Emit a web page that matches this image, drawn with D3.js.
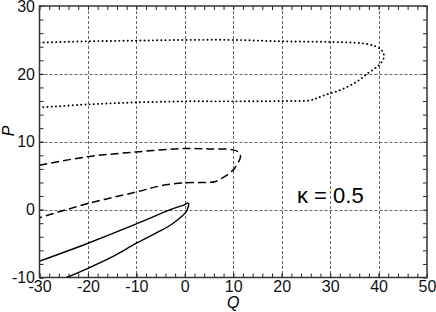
<!DOCTYPE html>
<html>
<head>
<meta charset="utf-8">
<script src="https://cdn.jsdelivr.net/npm/d3@7.9.0/dist/d3.min.js"></script>
<style>
  body { margin: 0; background: #fff; }
  svg { display: block; font-family: 'Liberation Sans', Arial, sans-serif; }
  .axis path { display: none; }
  .axis line { stroke: #222; }
  .axis text { font-size: 16px; fill: #111; font-family: 'Liberation Sans', Arial, sans-serif; }
</style>
</head>
<body>
<svg id="chart" width="436" height="312"></svg>
<script>
// curve values (Q, P pairs going round each loop)
const dottedQ = [-30, -20, -10, 0, 10, 20, 30, 36.7, 39.2, 40.5, 41.1, 41, 40.1, 37.8, 35.4, 32, 29, 27.2, 25.8, 20, 10, 0, -10, -20, -30];
const dottedP = [24.6, 24.8, 24.9, 25.0, 25.0, 24.8, 24.7, 24.5, 24.1, 23.6, 22.8, 22.2, 21.3, 20.1, 18.8, 17.6, 16.9, 16.4, 16.1, 16.0, 15.95, 15.95, 15.8, 15.5, 15.05];

const dashedQ = [-30, -20, -10, 0, 5, 10, 11.2, 11.5, 10.3, 9.3, 7.6, 6.2, 5, 3, 0, -5, -10, -20, -30];
const dashedP = [6.55, 7.8, 8.5, 9.0, 8.95, 8.8, 8.4, 7.8, 6.1, 5.4, 4.6, 4.12, 4.02, 3.98, 3.95, 3.5, 2.6, 0.9, -1.2];

const solidQ = [-30, -20, -10, -3, 0, 0.6, 0.8, 0.6, 0.3, -2.4, -5, -10, -14.8, -20, -24.4];
const solidP = [-7.6, -4.95, -2.1, 0, 0.75, 1.0, 0.8, 0.2, -0.3, -2.0, -3.1, -4.95, -6.9, -8.65, -10];

const xTicks = [-30, -20, -10, 0, 10, 20, 30, 40, 50];
const yTicks = [-10, 0, 10, 20, 30];
const kappaLabel = 'κ = 0.5';

const plotLeft = 39.5, plotRight = 427, plotTop = 6, plotBottom = 277.5;

const svg = d3.select('#chart');
const x = d3.scaleLinear().domain([-30, 50]).range([plotLeft, plotRight]);
const y = d3.scaleLinear().domain([-10, 30]).range([plotBottom, plotTop]);

svg.append('defs').append('clipPath').attr('id', 'plot')
  .append('rect')
  .attr('x', plotLeft).attr('y', plotTop)
  .attr('width', plotRight - plotLeft).attr('height', plotBottom - plotTop);

// grid
const grid = svg.append('g')
  .attr('stroke', '#666')
  .attr('stroke-width', 1)
  .attr('stroke-dasharray', '3,2');
grid.selectAll('.gx')
  .data(xTicks.slice(1, -1))
  .join('line')
  .attr('x1', (d) => Math.round(x(d)) + 0.5).attr('x2', (d) => Math.round(x(d)) + 0.5)
  .attr('y1', plotTop).attr('y2', plotBottom);
grid.selectAll('.gy')
  .data(yTicks.slice(1, -1))
  .join('line')
  .attr('y1', (d) => Math.round(y(d)) + 0.5).attr('y2', (d) => Math.round(y(d)) + 0.5)
  .attr('x1', plotLeft).attr('x2', plotRight);

// axes, ticks pointing inward
const minorX = d3.range(-30, 51, 2);
const minorY = d3.range(-10, 31, 2);
const fmt = (d) => String(d);

svg.append('g').attr('class', 'axis')
  .attr('transform', `translate(0,${plotBottom})`)
  .call(d3.axisBottom(x).tickValues(minorX).tickSizeInner(-4).tickSizeOuter(0).tickFormat(''));
svg.append('g').attr('class', 'axis')
  .attr('transform', `translate(0,${plotBottom})`)
  .call(d3.axisBottom(x).tickValues(xTicks).tickSizeInner(-4).tickSizeOuter(0).tickPadding(3).tickFormat(fmt));
svg.append('g').attr('class', 'axis')
  .attr('transform', `translate(0,${plotTop})`)
  .call(d3.axisTop(x).tickValues(minorX).tickSizeInner(-4).tickSizeOuter(0).tickFormat(''));
svg.append('g').attr('class', 'axis')
  .attr('transform', `translate(${plotLeft},0)`)
  .call(d3.axisLeft(y).tickValues(minorY).tickSizeInner(-4).tickSizeOuter(0).tickFormat(''));
svg.append('g').attr('class', 'axis')
  .attr('transform', `translate(${plotLeft},0)`)
  .call(d3.axisLeft(y).tickValues(yTicks).tickSizeInner(-4).tickSizeOuter(0).tickPadding(4.5).tickFormat(fmt));
svg.append('g').attr('class', 'axis')
  .attr('transform', `translate(${plotRight},0)`)
  .call(d3.axisRight(y).tickValues(minorY).tickSizeInner(-4).tickSizeOuter(0).tickFormat(''));

// frame
svg.append('rect')
  .attr('x', plotLeft).attr('y', plotTop)
  .attr('width', plotRight - plotLeft).attr('height', plotBottom - plotTop)
  .attr('fill', 'none')
  .attr('stroke', '#333')
  .attr('stroke-width', 1.5);

// curves
const line = d3.line()
  .x((d) => x(d[0]))
  .y((d) => y(d[1]))
  .curve(d3.curveCatmullRom.alpha(0.5));

const curves = [
  { q: dottedQ, p: dottedP, dash: '0.1,4.1', width: 1.9, cap: 'round' },
  { q: dashedQ, p: dashedP, dash: '8,4', width: 1.5, cap: 'butt' },
  { q: solidQ, p: solidP, dash: null, width: 1.4, cap: 'butt' },
];

const plot = svg.append('g').attr('clip-path', 'url(#plot)');
curves.forEach((c) => {
  plot.append('path')
    .attr('d', line(d3.zip(c.q, c.p)))
    .attr('fill', 'none')
    .attr('stroke', '#000')
    .attr('stroke-width', c.width)
    .attr('stroke-linecap', c.cap)
    .attr('stroke-dasharray', c.dash);
});

// labels
svg.append('text')
  .attr('x', (plotLeft + plotRight) / 2)
  .attr('y', 308)
  .attr('text-anchor', 'middle')
  .attr('font-size', 16)
  .attr('font-style', 'italic')
  .text('Q');

svg.append('text')
  .attr('transform', 'translate(14,131) rotate(-90)')
  .attr('text-anchor', 'middle')
  .attr('font-size', 16)
  .attr('font-style', 'italic')
  .text('P');

svg.append('text')
  .attr('x', 297)
  .attr('y', 203)
  .attr('font-size', 22)
  .text(kappaLabel);
</script>
</body>
</html>
